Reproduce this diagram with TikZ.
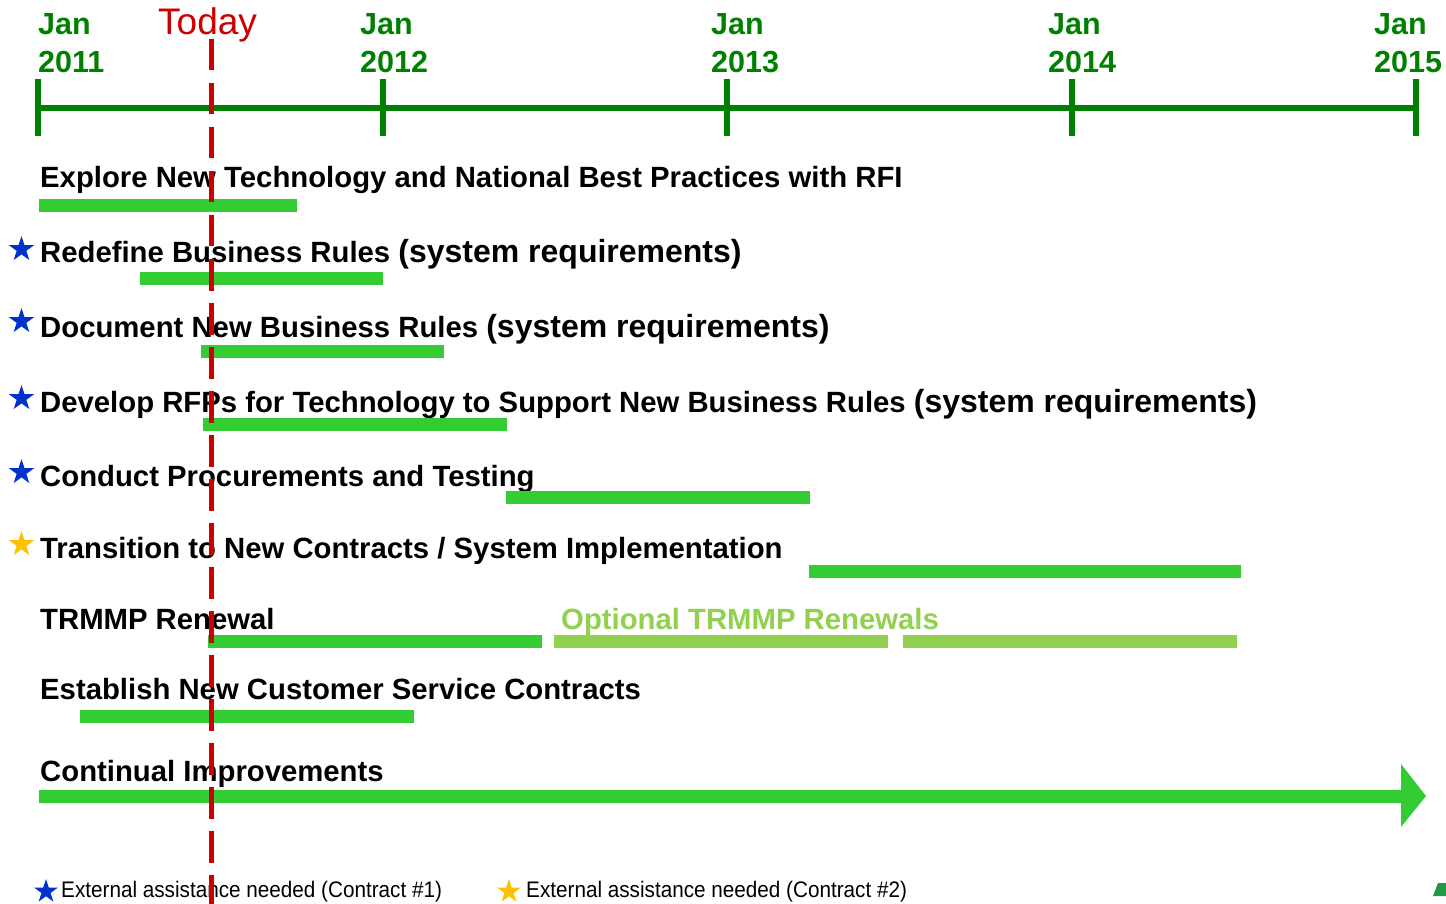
\documentclass[tikz,border=0pt]{standalone}
\usepackage{fontspec}
\setmainfont{Liberation Sans}
\newfontfamily\legendfont{Liberation Sans}[FakeStretch=0.92]
\usetikzlibrary{shapes.geometric}
\definecolor{axisgreen}{HTML}{008000}
\definecolor{bargreen}{HTML}{33CC33}
\definecolor{optgreen}{HTML}{92D050}
\definecolor{todayred}{HTML}{CC0000}
\definecolor{starblue}{HTML}{0033CC}
\definecolor{staryellow}{HTML}{FFC000}
\definecolor{logogreen}{HTML}{229944}
\newcommand\sysreq{{\fontsize{32}{36}\selectfont(system requirements)}}
\begin{document}
\begin{tikzpicture}[x=1pt,y=-1pt,
  yearlabel/.style={anchor=base west, inner sep=0, text=axisgreen, font=\fontsize{30.5}{34}\selectfont\bfseries},
  task/.style={anchor=base west, inner sep=0, font=\fontsize{29.3}{34}\selectfont\bfseries},
  bar/.style={fill=bargreen},
  optbar/.style={fill=optgreen},
  rowstar/.style={star, star points=5, star point ratio=2.618, inner sep=0, minimum size=26.6pt, draw=none},
  legendstar/.style={rowstar, minimum size=25pt},
  legendtext/.style={anchor=base west, inner sep=0, font=\legendfont\fontsize{22.5}{26}\selectfont},
  axisline/.style={draw=axisgreen, line width=6pt},
  todayline/.style={draw=todayred, line width=4.5pt, dash pattern=on 31.5pt off 12.5pt},
]
\useasboundingbox (0,0) rectangle (1446,904);

% time axis with yearly ticks
\draw[axisline] (38,108.5) -- (1416,108.5);
\foreach \x in {38,382.5,727,1072,1416}
  \draw[axisline] (\x,79) -- (\x,136);

\node[yearlabel] (jan11) at (38,35) {Jan};
\node[yearlabel] (y11) at (38,73) {2011};
\node[yearlabel] (jan12) at (360,35) {Jan};
\node[yearlabel] (y12) at (360,73) {2012};
\node[yearlabel] (jan13) at (711,35) {Jan};
\node[yearlabel] (y13) at (711,73) {2013};
\node[yearlabel] (jan14) at (1048,35) {Jan};
\node[yearlabel] (y14) at (1048,73) {2014};
\node[yearlabel] (jan15) at (1374,35) {Jan};
\node[yearlabel] (y15) at (1374,73) {2015};

\node[anchor=base west, inner sep=0, text=todayred, font=\fontsize{37}{41}\selectfont] (today) at (158,34.5) {Today};

% task labels
\node[task] (t1) at (40,188) {Explore New Technology and National Best Practices with RFI};
\node[task] (t2) at (40,262) {Redefine Business Rules \sysreq};
\node[task] (t3) at (40,337) {Document New Business Rules \sysreq};
\node[task] (t4) at (40,412) {Develop RFPs for Technology to Support New Business Rules \sysreq};
\node[task] (t5) at (40,486) {Conduct Procurements and Testing};
\node[task] (t6) at (40,558) {Transition to New Contracts / System Implementation};
\node[task] (t7) at (40,629) {TRMMP Renewal};
\node[task, text=optgreen] (t7b) at (561,629) {Optional TRMMP Renewals};
\node[task] (t8) at (40,699) {Establish New Customer Service Contracts};
\node[task] (t9) at (40,781) {Continual Improvements};

% contract stars
\node[rowstar, fill=starblue] (s2) at (21.5,249.3) {};
\node[rowstar, fill=starblue] (s3) at (21.5,321.3) {};
\node[rowstar, fill=starblue] (s4) at (21.5,398.3) {};
\node[rowstar, fill=starblue] (s5) at (21.5,472.3) {};
\node[rowstar, fill=staryellow] (s6) at (21.5,544.3) {};

% schedule bars
\fill[bar] (39,199) rectangle (297,212);
\fill[bar] (140,272) rectangle (383,285);
\fill[bar] (201,345) rectangle (444,358);
\fill[bar] (203,418) rectangle (507,431);
\fill[bar] (506,491) rectangle (810,504);
\fill[bar] (809,565) rectangle (1241,578);
\fill[bar] (208,635) rectangle (542,648);
\fill[optbar] (554,635) rectangle (888,648);
\fill[optbar] (903,635) rectangle (1237,648);
\fill[bar] (80,710) rectangle (414,723);
\fill[bar] (39,790) -- (1401,790) -- (1401,764) -- (1426,796) -- (1401,827) -- (1401,803) -- (39,803) -- cycle;

% legend
\node[legendstar, fill=starblue] (ls1) at (46,891.5) {};
\node[legendtext] (lt1) at (61,897) {External assistance needed (Contract \#1)};
\node[legendstar, fill=staryellow] (ls2) at (509,891.5) {};
\node[legendtext] (lt2) at (526,897) {External assistance needed (Contract \#2)};

\fill[logogreen] (1433,896) -- (1438,883) -- (1446,883) -- (1446,896) -- cycle;

% today marker
\draw[todayline] (211.5,39) -- (211.5,904);
\end{tikzpicture}
\end{document}
